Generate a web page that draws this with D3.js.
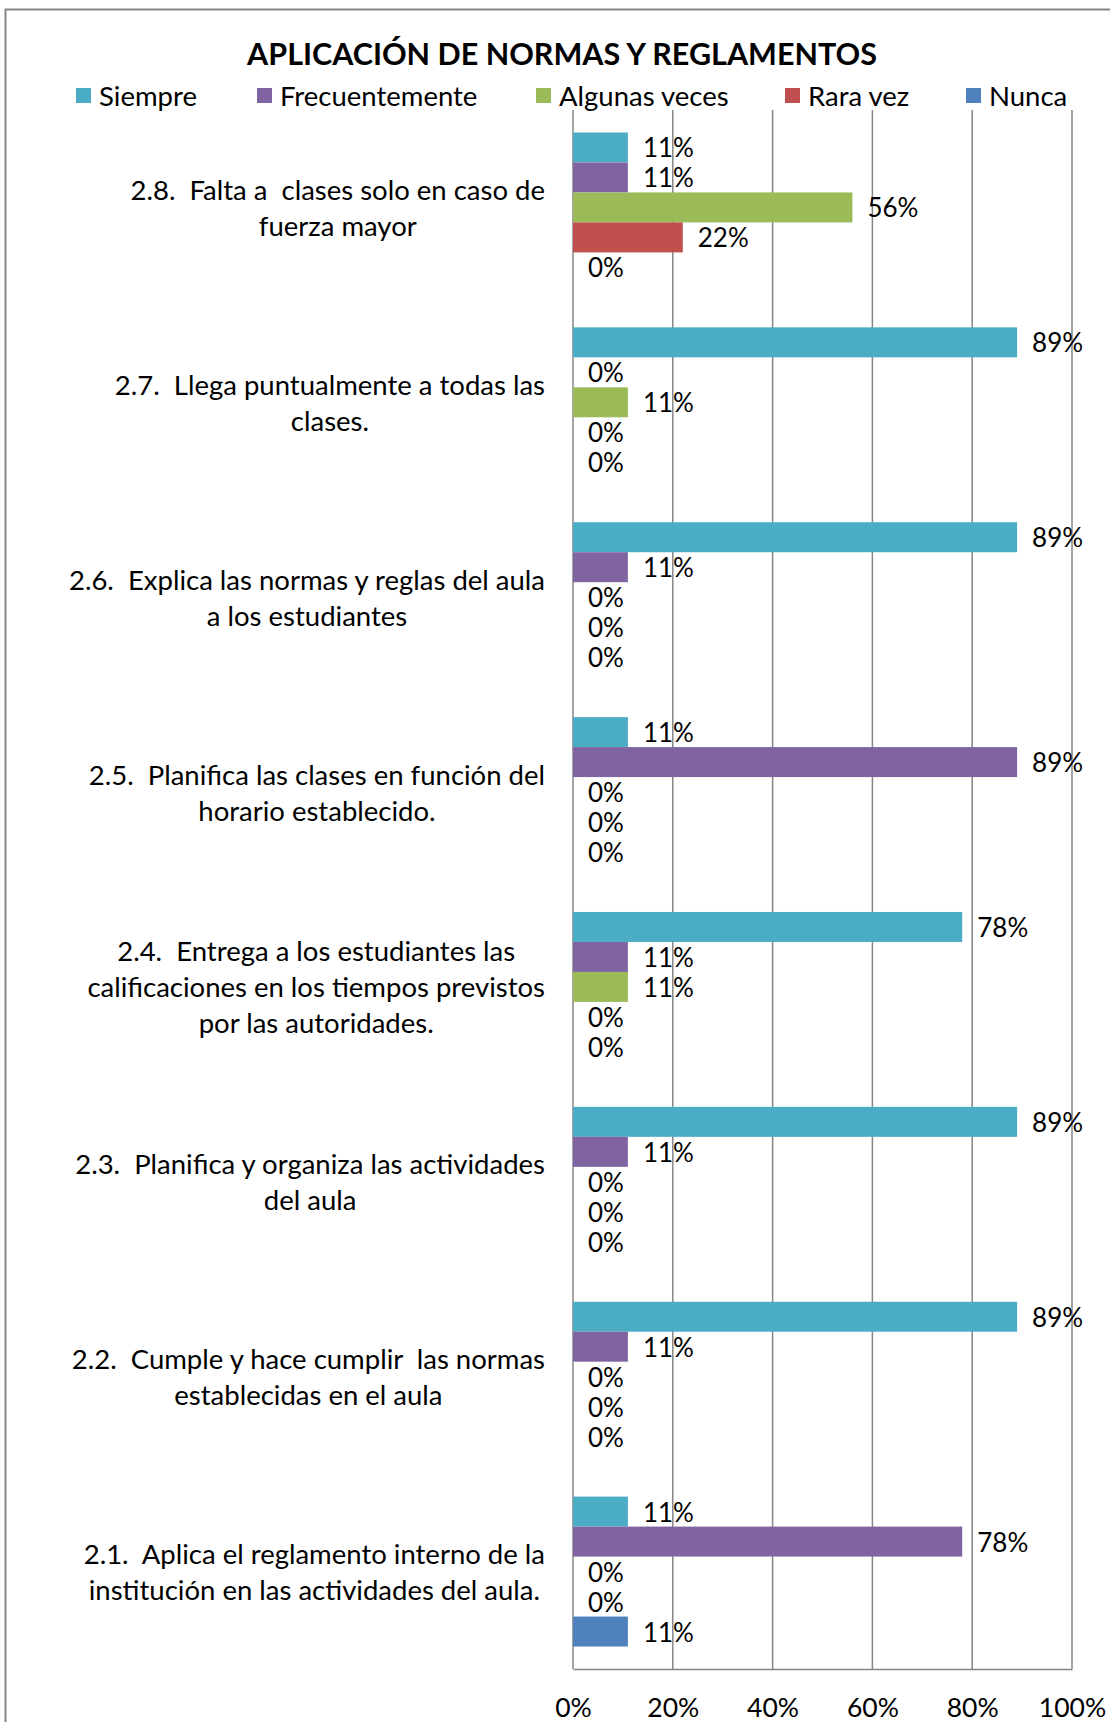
<!DOCTYPE html>
<html>
<head>
<meta charset="utf-8">
<script src="https://cdn.jsdelivr.net/npm/d3@7"></script>
<style>
  html, body { margin: 0; padding: 0; background: #fff; }
  svg text { font-family: Lato, "Open Sans", sans-serif; white-space: pre; }
</style>
</head>
<body>
<svg id="chart" width="1110" height="1722"></svg>
<script>
// Survey items, top to bottom
const categories = ["2.8", "2.7", "2.6", "2.5", "2.4", "2.3", "2.2", "2.1"];
const categoryLines = [
  ["2.8.  Falta a  clases solo en caso de", "fuerza mayor"],
  ["2.7.  Llega puntualmente a todas las", "clases."],
  ["2.6.  Explica las normas y reglas del aula", "a los estudiantes"],
  ["2.5.  Planifica las clases en función del", "horario establecido."],
  ["2.4.  Entrega a los estudiantes las", "calificaciones en los tiempos previstos", "por las autoridades."],
  ["2.3.  Planifica y organiza las actividades", "del aula"],
  ["2.2.  Cumple y hace cumplir  las normas", "establecidas en el aula"],
  ["2.1.  Aplica el reglamento interno de la", "institución en las actividades del aula."]
];
const seriesNames = ["Siempre", "Frecuentemente", "Algunas veces", "Rara vez", "Nunca"];
const seriesColors = ["#4BACC6", "#8064A2", "#9BBB59", "#C0504D", "#4F81BD"];
// Percent per item, in the order of categories
const siempre        = [11, 89, 89, 11, 78, 89, 89, 11];
const frecuentemente = [11,  0, 11, 89, 11, 11, 11, 78];
const algunasVeces   = [56, 11,  0,  0, 11,  0,  0,  0];
const raraVez        = [22,  0,  0,  0,  0,  0,  0,  0];
const nunca          = [ 0,  0,  0,  0,  0,  0,  0, 11];
const seriesValues = [siempre, frecuentemente, algunasVeces, raraVez, nunca];
const xTicks = [0, 20, 40, 60, 80, 100];
const title = "APLICACIÓN DE NORMAS Y REGLAMENTOS";

const svg = d3.select("#chart");
const W = 1110, H = 1722;
const plot = { left: 573, right: 1072, top: 110, bottom: 1669 };
const gridColor = "#868686";

svg.append("rect").attr("width", W).attr("height", H).attr("fill", "#fff");
// chart area frame
svg.append("path").attr("d", `M5.5,${H} V9.5 H${W}`)
  .attr("fill", "none").attr("stroke", gridColor).attr("stroke-width", 2);

// title
svg.append("text").attr("x", 562).attr("y", 53)
  .attr("text-anchor", "middle").attr("dominant-baseline", "central")
  .attr("font-size", 30.5).attr("font-weight", "bold").attr("fill", "#000")
  .text(title);

// legend
const legendX = [76, 257, 536, 785, 966];
const legend = svg.append("g");
seriesNames.forEach((name, i) => {
  legend.append("rect").attr("x", legendX[i]).attr("y", 88).attr("width", 15).attr("height", 15)
    .attr("fill", seriesColors[i]);
  legend.append("text").attr("x", legendX[i] + 23).attr("y", 95.5)
    .attr("dominant-baseline", "central").attr("font-size", 27.5).attr("fill", "#000")
    .text(name);
});

const x = d3.scaleLinear().domain([0, 100]).range([plot.left, plot.right]);
const y = d3.scaleBand().domain(categories).range([plot.top, plot.bottom]);
const ySeries = d3.scaleBand().domain(seriesNames).range([0, y.bandwidth()]).paddingOuter(0.75);

// vertical gridlines
svg.append("g").selectAll("line").data(xTicks).join("line")
  .attr("x1", d => x(d)).attr("x2", d => x(d))
  .attr("y1", plot.top).attr("y2", plot.bottom)
  .attr("stroke", gridColor).attr("stroke-width", 1.5);

// x axis
const xAxis = svg.append("g").attr("transform", `translate(0,${plot.bottom})`)
  .call(d3.axisBottom(x).tickValues(xTicks).tickFormat(d => d + "%").tickSize(0).tickPadding(0));
xAxis.select(".domain").attr("stroke", gridColor).attr("stroke-width", 1.5);
xAxis.selectAll("text").attr("font-size", 26.5).attr("fill", "#000")
  .attr("font-family", "Lato, 'Open Sans', sans-serif")
  .attr("dy", null).attr("y", 38).attr("dominant-baseline", "central");

// bars and value labels
const groups = svg.append("g").selectAll("g").data(categories).join("g")
  .attr("transform", d => `translate(0,${y(d)})`);
groups.each(function (cat, ci) {
  const g = d3.select(this);
  const rows = seriesNames.map((s, si) => ({ s, si, v: seriesValues[si][ci] }));
  g.selectAll("rect").data(rows).join("rect")
    .attr("x", x(0)).attr("y", d => ySeries(d.s))
    .attr("width", d => x(d.v) - x(0)).attr("height", ySeries.bandwidth())
    .attr("fill", d => seriesColors[d.si]);
  g.selectAll("text").data(rows).join("text")
    .attr("x", d => x(d.v) + 15).attr("y", d => ySeries(d.s) + ySeries.bandwidth() / 2)
    .attr("dominant-baseline", "central").attr("font-size", 26).attr("fill", "#000")
    .text(d => d.v + "%");
});

// category labels, lines centered in a right-aligned block
const labelRight = 545, lineH = 36;
categories.forEach((cat, ci) => {
  const lines = categoryLines[ci];
  const t = svg.append("g");
  const texts = lines.map((ln, li) => t.append("text")
    .attr("font-size", 27.5).attr("fill", "#000")
    .attr("text-anchor", "middle").attr("dominant-baseline", "central")
    .attr("y", y(cat) + y.bandwidth() / 2 + (li - (lines.length - 1) / 2) * lineH)
    .text(ln));
  const maxW = d3.max(texts, tx => tx.node().getComputedTextLength());
  texts.forEach(tx => tx.attr("x", labelRight - maxW / 2));
});
</script>
</body>
</html>
